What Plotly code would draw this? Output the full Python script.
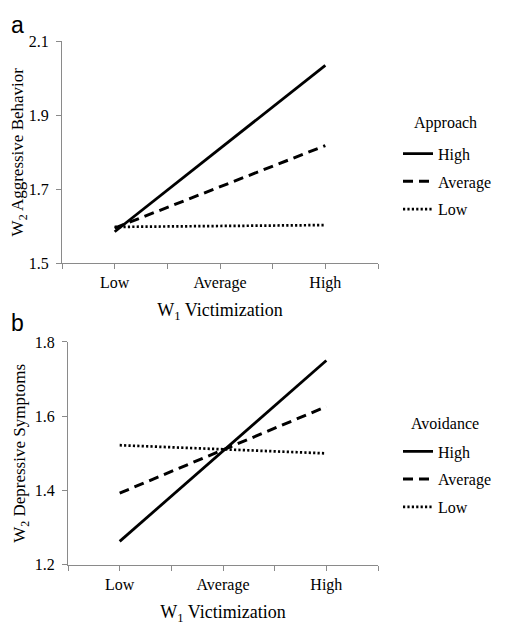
import plotly.graph_objects as go

# ---- data ----
categories = ["Low", "Average", "High"]
x_pos = [0, 1, 2]

approach_high = [1.585, 1.810, 2.035]
approach_avg = [1.595, 1.707, 1.818]
approach_low = [1.598, 1.600, 1.603]

avoid_high = [1.263, 1.507, 1.750]
avoid_avg = [1.393, 1.510, 1.626]
avoid_low = [1.522, 1.511, 1.500]

y_ticks_a = [1.5, 1.7, 1.9, 2.1]
y_ticks_b = [1.2, 1.4, 1.6, 1.8]
level_names = ["High", "Average", "Low"]

# page body margin offset (browser default) compensation
OFF = 8
W, H = 510 - OFF, 639 - OFF

def fx(px):
    return (px - OFF) / W

def fy(py):
    return 1 - (py - OFF) / H

SERIF = "Liberation Serif"
AXC = "#8a8a8a"

styles = {
    "High": dict(dash="solid", width=2.8),
    "Average": dict(dash="10px,6px", width=3),
    "Low": dict(dash="2.2px,2.2px", width=2.7),
}

fig = go.Figure()
for name, vals in zip(level_names, [approach_high, approach_avg, approach_low]):
    fig.add_trace(go.Scatter(x=x_pos, y=vals, mode="lines", name=name,
                             line=dict(color="black", **styles[name]),
                             xaxis="x", yaxis="y", legend="legend",
                             legendgroup="a" + name))
for name, vals in zip(level_names, [avoid_high, avoid_avg, avoid_low]):
    fig.add_trace(go.Scatter(x=x_pos, y=vals, mode="lines", name=name,
                             line=dict(color="black", **styles[name]),
                             xaxis="x2", yaxis="y2", legend="legend2",
                             legendgroup="b" + name))

def xax(domain, anchor):
    return dict(domain=domain, anchor=anchor, range=[-0.5, 2.5],
                tickmode="array", tickvals=x_pos, ticktext=categories,
                ticks="outside", ticklen=5, tickcolor=AXC, tickwidth=1,
                minor=dict(tickvals=[-0.5, 0.5, 1.5, 2.5], ticks="outside",
                           ticklen=5, tickcolor=AXC, tickwidth=1, showgrid=False),
                showline=True, linecolor=AXC, linewidth=1, showgrid=False,
                zeroline=False, tickfont=dict(family=SERIF, size=16, color="black"),
                title=dict(text="W<sub>1</sub> Victimization", standoff=12,
                           font=dict(family=SERIF, size=18, color="black")))

def yax(domain, anchor, rng, ticks, title):
    return dict(domain=domain, anchor=anchor, range=rng,
                tickmode="array", tickvals=ticks, ticktext=[f"{t:.1f}" for t in ticks],
                ticks="outside", ticklen=5, tickcolor=AXC, tickwidth=1,
                ticklabelstandoff=4,
                showline=True, linecolor=AXC, linewidth=1, showgrid=False,
                zeroline=False, tickfont=dict(family=SERIF, size=16, color="black"),
                title=dict(text=title, standoff=4,
                           font=dict(family=SERIF, size=17, color="black")))

legend_common = dict(xanchor="left", yanchor="top",
                     traceorder="grouped", tracegroupgap=4,
                     font=dict(family=SERIF, size=16, color="black"),
                     bgcolor="rgba(0,0,0,0)")

fig.update_layout(
    width=W, height=H,
    margin=dict(l=0, r=0, t=0, b=0),
    paper_bgcolor="white", plot_bgcolor="white",
    xaxis=xax([fx(62), fx(378)], "y"),
    yaxis=yax([fy(262), fy(34)], "x", [1.5, 2.1], y_ticks_a,
              "W<sub>2</sub> Aggressive Behavior"),
    xaxis2=xax([fx(68), fx(378)], "y2"),
    yaxis2=yax([fy(572), fy(343)], "x2", [1.2, 1.8], y_ticks_b,
               "W<sub>2</sub> Depressive Symptoms"),
    legend=dict(x=fx(398), y=fy(132), **legend_common),
    legend2=dict(x=fx(398), y=fy(438), **legend_common),
    annotations=[
        dict(text="Approach", x=fx(445), y=fy(118), xref="paper", yref="paper",
             xanchor="center", yanchor="middle", showarrow=False,
             font=dict(family=SERIF, size=16, color="black")),
        dict(text="Avoidance", x=fx(445), y=fy(427), xref="paper", yref="paper",
             xanchor="center", yanchor="middle", showarrow=False,
             font=dict(family=SERIF, size=16, color="black")),
        dict(text="a", x=fx(9), y=fy(17), xref="paper", yref="paper",
             xanchor="left", yanchor="middle", showarrow=False,
             font=dict(family="Liberation Sans", size=23, color="black")),
        dict(text="b", x=fx(9), y=fy(324), xref="paper", yref="paper",
             xanchor="left", yanchor="middle", showarrow=False,
             font=dict(family="Liberation Sans", size=23, color="black")),
    ],
)

fig.write_html("out.html")
